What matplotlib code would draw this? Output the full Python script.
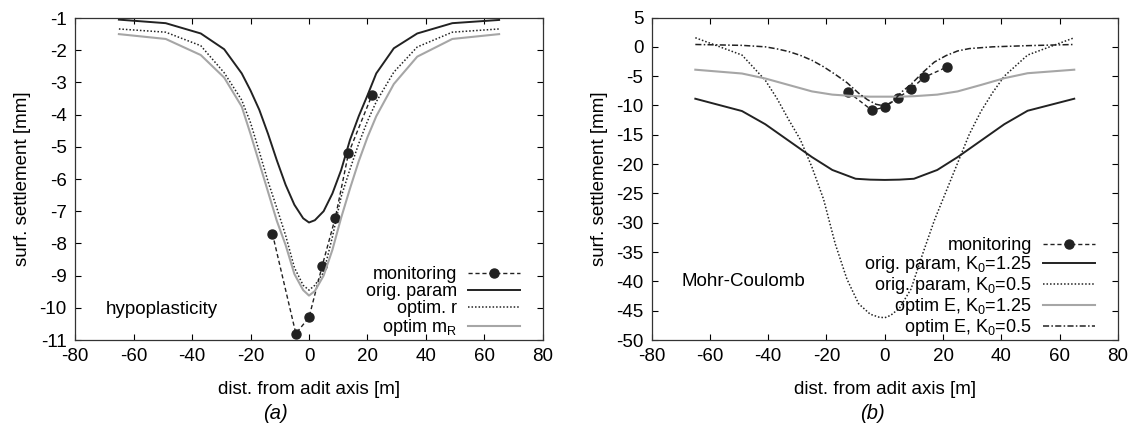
import matplotlib
matplotlib.use("Agg")
from matplotlib import pyplot as plt

plt.rcParams["font.family"] = ["Liberation Sans", "DejaVu Sans"]
plt.rcParams["mathtext.fontset"] = "custom"
plt.rcParams["mathtext.rm"] = "Liberation Sans"
plt.rcParams["mathtext.it"] = "Liberation Sans:italic"
plt.rcParams["axes.unicode_minus"] = False

# (a) hypoplasticity
x_hypo = [-65, -49, -37, -29, -23, -20, -17, -14, -11, -8, -5, -2, 0,
          2, 5, 8, 11, 14, 17, 20, 23, 29, 37, 49, 65]
hypo_orig = [-1.05, -1.16, -1.48, -1.97, -2.72, -3.25, -3.85, -4.6, -5.42, -6.18, -6.8, -7.22, -7.35,
             -7.28, -7.0, -6.45, -5.72, -4.79, -4.05, -3.4, -2.72, -1.94, -1.48, -1.16, -1.06]
hypo_optim_r = [-1.34, -1.44, -1.86, -2.7, -3.55, -4.25, -5.15, -6.08, -6.9, -7.75, -8.75, -9.3, -9.45,
                -9.3, -8.9, -7.8, -6.55, -5.7, -4.9, -4.2, -3.6, -2.68, -1.9, -1.44, -1.34]
hypo_optim_mr = [-1.5, -1.65, -2.15, -2.85, -3.75, -4.6, -5.5, -6.4, -7.3, -8.05, -8.95, -9.45, -9.62,
                 -9.48, -9.0, -8.2, -7.2, -6.3, -5.45, -4.7, -4.05, -3.05, -2.2, -1.65, -1.5]

# monitoring (same in both panels)
x_mon = [-12.5, -4.5, 0, 4.5, 9, 13.5, 21.5]
y_mon = [-7.7, -10.8, -10.3, -8.7, -7.2, -5.2, -3.4]

# (b) Mohr-Coulomb
x_mc_a = [-65, -49, -41, -33, -25, -18, -10, -5, 0, 5, 10, 18, 25, 33, 41, 49, 65]
mc_orig_k125 = [-8.85, -10.95, -13.2, -16.0, -18.8, -21.0, -22.5, -22.65, -22.7,
                -22.65, -22.5, -21.0, -18.8, -16.0, -13.2, -10.9, -8.85]
mc_optim_k125 = [-3.9, -4.55, -5.4, -6.5, -7.6, -8.15, -8.42, -8.5, -8.5,
                 -8.5, -8.42, -8.15, -7.6, -6.5, -5.35, -4.5, -3.9]

x_mc_b = [-65, -49, -41, -37, -33, -29, -25, -21, -17, -13, -9, -5, -2, 0,
          2, 5, 9, 13, 17, 21, 25, 29, 33, 37, 41, 49, 65]
mc_orig_k05 = [1.55, -1.4, -5.7, -8.8, -12.4, -15.8, -20.5, -26.0, -33.6, -39.6, -43.8, -45.6, -46.1, -46.2,
               -45.8, -44.6, -41.3, -35.3, -29.6, -24.7, -19.8, -14.9, -11.0, -7.8, -5.0, -1.4, 1.55]

x_mc_c = [-65, -49, -41, -37, -33, -29, -25, -21, -17, -13, -9, -6, -3, 0,
          3, 6, 9, 13, 17, 21, 25, 29, 37, 49, 65]
mc_optim_k05 = [0.4, 0.25, 0.0, -0.35, -0.8, -1.45, -2.3, -3.4, -4.7, -6.1, -7.9, -9.0, -9.8, -10.1,
                -9.2, -7.6, -6.4, -4.4, -2.6, -1.5, -0.7, -0.3, 0.0, 0.2, 0.4]

FS = 13.5
DARK = "#222222"
GRAY = "#a6a6a6"
DASHED = (0, (3, 2))
DOTTED = (0, (1, 1.3))
DASHDOT = (0, (4, 1.5, 1, 1.5))

fig = plt.figure(figsize=(11.35, 4.23), dpi=100)
ax1 = fig.add_axes([0.0661, 0.1962, 0.4123, 0.7612])
ax2 = fig.add_axes([0.5741, 0.1962, 0.4109, 0.7624])

# panel (a)
ax1.plot(x_mon, y_mon, color=DARK, ls=DASHED, lw=1.0, marker="o", ms=6.5, label="monitoring")
ax1.plot(x_hypo, hypo_orig, color=DARK, lw=1.4, label="orig. param")
ax1.plot(x_hypo, hypo_optim_r, color=DARK, ls=DOTTED, lw=1.1, label="optim. r")
ax1.plot(x_hypo, hypo_optim_mr, color=GRAY, lw=1.5, label=r"optim m$_\mathrm{R}$")
ax1.set_ylim(-11, -1)
ax1.set_yticks(range(-11, 0))
ax1.text(-69.5, -10.05, "hypoplasticity", fontsize=FS, ha="left", va="center")

# panel (b)
ax2.plot(x_mon, y_mon, color=DARK, ls=DASHED, lw=1.0, marker="o", ms=6.5, label="monitoring")
ax2.plot(x_mc_a, mc_orig_k125, color=DARK, lw=1.4, label=r"orig. param, K$_\mathrm{0}$=1.25")
ax2.plot(x_mc_b, mc_orig_k05, color=DARK, ls=DOTTED, lw=1.1, label=r"orig. param, K$_\mathrm{0}$=0.5")
ax2.plot(x_mc_a, mc_optim_k125, color=GRAY, lw=1.5, label=r"optim E, K$_\mathrm{0}$=1.25")
ax2.plot(x_mc_c, mc_optim_k05, color=DARK, ls=DASHDOT, lw=1.1, label=r"optim E, K$_\mathrm{0}$=0.5")
ax2.set_ylim(-50, 5)
ax2.set_yticks(range(-50, 6, 5))
ax2.text(-69.7, -40.1, "Mohr-Coulomb", fontsize=FS, ha="left", va="center")

for ax in (ax1, ax2):
    ax.set_xlim(-80, 80)
    ax.set_xticks(range(-80, 81, 20))
    ax.tick_params(direction="in", top=True, right=True, length=4, width=0.8,
                   labelsize=FS, pad=6)
    ax.set_xlabel("dist. from adit axis [m]", fontsize=FS, labelpad=11)
    ax.set_ylabel("surf. settlement [mm]", fontsize=FS, labelpad=6)
    for s in ax.spines.values():
        s.set_linewidth(0.9)
        s.set_color("#333333")
    ax.legend(loc="lower right", bbox_to_anchor=(0.951, 0.005), markerfirst=False,
              frameon=False, fontsize=13, handlelength=2.9, handletextpad=0.6,
              labelspacing=0, borderaxespad=0, borderpad=0, numpoints=1)

fig.text(275 / 1135, 1 - 413 / 423, "(a)", fontsize=FS + 1, style="italic", ha="center", va="center")
fig.text(872 / 1135, 1 - 413 / 423, "(b)", fontsize=FS + 1, style="italic", ha="center", va="center")

fig.savefig("out.png", dpi=100)
